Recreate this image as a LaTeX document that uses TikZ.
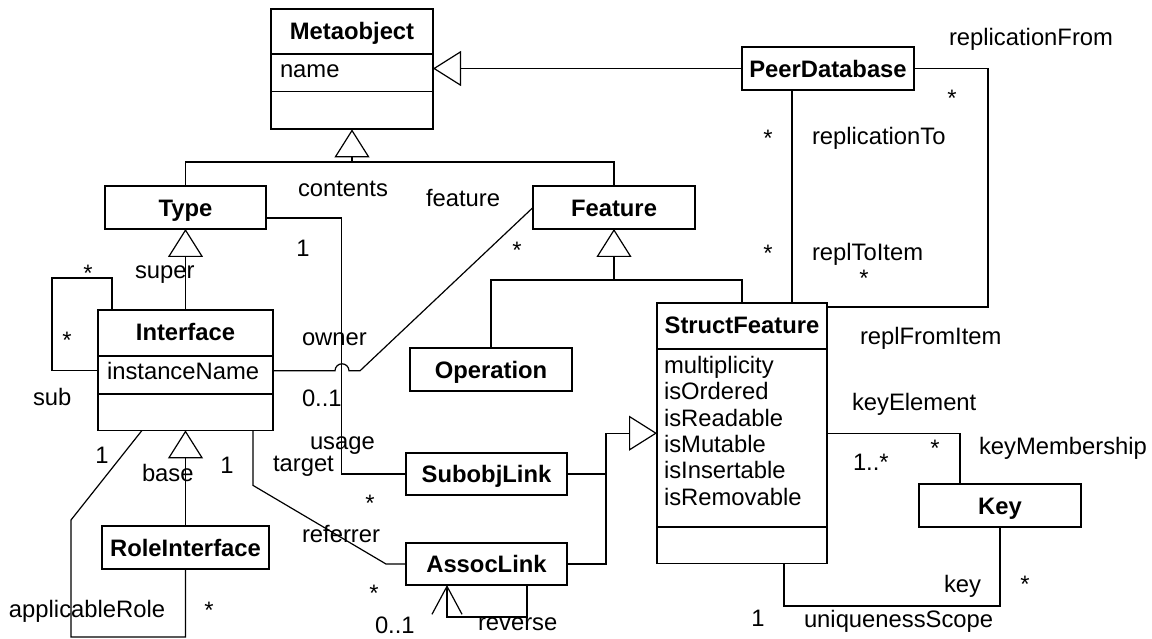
\documentclass[tikz,border=0pt]{standalone}
\usepackage{fontspec}
\setmainfont{Liberation Sans}
\usetikzlibrary{shapes.multipart,arrows.meta,calc}

\begin{document}
\begin{tikzpicture}[x=1pt,y=-1pt,
    every node/.style={font=\fontsize{23.8}{26.4}\selectfont, inner sep=0pt, outer sep=0pt},
    lbl/.style={anchor=west, text height=20pt, text depth=2.8pt},
    mult/.style={text height=20pt, text depth=2.8pt},
    cls/.style={draw, line width=1.8pt, minimum height=43pt, text height=20pt, text depth=2.8pt,
      font=\fontsize{23.8}{26.4}\selectfont\bfseries},
    cls3/.style={draw, line width=1.8pt, anchor=north west, rectangle split, rectangle split parts=3,
      rectangle split part align={center,left,left}, inner xsep=9pt, inner ysep=0pt},
    conn/.style={line width=1.2pt},
    isa/.style={line width=1.2pt, -{Triangle[open, length=28pt, width=35pt]}},
    nav/.style={line width=1.2pt, -{Straight Barb[length=28pt, width=30pt]}}]
  \newcommand{\clshead}[2]{\rule[-#2pt]{0pt}{\dimexpr30pt+#2pt\relax}\textbf{#1}}
  \newcommand{\clsattr}[1]{\rule[-13pt]{0pt}{36pt}#1}
  \fill[white] (0,0) rectangle (1152,639);
  \useasboundingbox (0,0) rectangle (1152,639);

  % classes
  \node[cls3, minimum width=162pt] (meta) at (271,9)
    {\clshead{Metaobject}{13}\nodepart{two}\clsattr{name}\nodepart{three}\rule{0pt}{36pt}};
  \node[cls3, minimum width=175pt] (iface) at (98,310)
    {\clshead{Interface}{14}\nodepart{two}\clsattr{instanceName}\nodepart{three}\rule{0pt}{35pt}};
  \node[cls3, minimum width=170pt, inner xsep=7pt] (sf) at (657,303)
    {\clshead{StructFeature}{14}\nodepart{two}\rule[-152.4pt]{0pt}{176pt}%
     \begin{tabular}[t]{@{}l@{}}multiplicity\\isOrdered\\isReadable\\isMutable\\isInsertable\\isRemovable\end{tabular}%
     \nodepart{three}\rule{0pt}{35pt}};
  \node[cls, minimum width=161pt] (type) at (185.5,207.5) {Type};
  \node[cls, minimum width=162pt] (feat) at (614,207.5) {Feature};
  \node[cls, minimum width=172pt] (peer) at (828,68.5) {PeerDatabase};
  \node[cls, minimum width=162pt] (oper) at (491,369.5) {Operation};
  \node[cls, minimum width=161pt, minimum height=42pt] (subobj) at (486.5,474) {SubobjLink};
  \node[cls, minimum width=161pt, minimum height=42pt] (assocl) at (486.5,564) {AssocLink};
  \node[cls, minimum width=167pt] (role) at (185.5,547.5) {RoleInterface};
  \node[cls, minimum width=162pt] (key) at (1000,505.5) {Key};

  % generalizations
  \coordinate (g1) at (meta.south |- 0,162);
  \draw[conn] (type.north) |- (g1) -| (feat.north);
  \draw[isa] (g1) -- (meta.south);
  \draw[isa] (peer.west) -- (peer.west -| meta.east);
  \draw[isa] (iface.north) -- (type.south);
  \draw[isa] (role.north) -- (iface.south);
  \coordinate (g2) at (feat.south |- 0,280);
  \draw[conn] (oper.north) |- (g2) -| (sf.north);
  \draw[isa] (g2) -- (feat.south);
  \coordinate (g3) at (606,0 |- sf.west);
  \draw[conn] (subobj.east) -- (subobj.east -| g3);
  \draw[conn] (assocl.east) -| (g3);
  \draw[isa] (g3) -- (sf.west);

  % associations
  \path (iface.text split east) ++(0,15) coordinate (ife)
        (iface.text split west) ++(0,15) coordinate (ifw);
  \draw[conn] ([xshift=-73.5pt]iface.north) |- (52,278) |- (ifw);
  \draw[conn] (ife) -- ++(62,0) arc[start angle=180, end angle=0, radius=7pt] -- ++(11,0) -- (feat.west);
  \draw[conn] (type.east) ++(0,10.5) -| ([xshift=-64.5pt]subobj.west) -- (subobj.west);
  \draw[conn] ([xshift=67.5pt]iface.south) -- ++(0,55) -- ([xshift=-20pt]assocl.west) -- (assocl.west);
  \coordinate (ar) at (role.south |- 0,637);
  \draw[conn] ([xshift=-43.5pt]iface.south) -- (71,520) |- (ar) -- (role.south);
  \draw[nav] ([xshift=40.5pt]assocl.south) |- ++(-80,32) -- ([xshift=-39.5pt]assocl.south);
  \coordinate (p1) at ([xshift=-36pt]peer.south);
  \draw[conn] (p1) -- (p1 |- sf.north);
  \draw[conn] (peer.east) -| (988,307) -- (sf.north east |- 0,307);
  \draw[conn] (sf.east) -| ([xshift=-40pt]key.north);
  \draw[conn] (key.south) -- ++(0,79) -| ([xshift=42pt]sf.south);

  % role names and multiplicities
  \foreach \t/\x/\y [count=\i] in {replicationFrom/949/37, replicationTo/812/136, replToItem/812/252,
      replFromItem/860/336, contents/298/188, feature/426/198, super/135/270, sub/33/397,
      owner/302/337, 0..1/302/398, usage/310/441, target/273/463, base/142/473, referrer/302/534,
      0..1/375/625, reverse/478/622, applicableRole/9/609, keyElement/852/402, 1..*/853/462,
      keyMembership/979/446, key/944/584, uniquenessScope/804/619}
    \node[lbl] (lab\i) at (\x,\y) {\t};
  \foreach \x/\y [count=\i] in {303/248, 227/465, 102/455, 758/618}
    \node[mult] (one\i) at (\x,\y) {1};
  \foreach \x/\y [count=\i] in {952/98, 768/138, 768/253, 864/278, 517/250, 88/273, 67/340,
      370/503, 374/593, 209/610, 935/448, 1025/584}
    \node[mult] (star\i) at (\x,\y) {*};
\end{tikzpicture}
\end{document}
